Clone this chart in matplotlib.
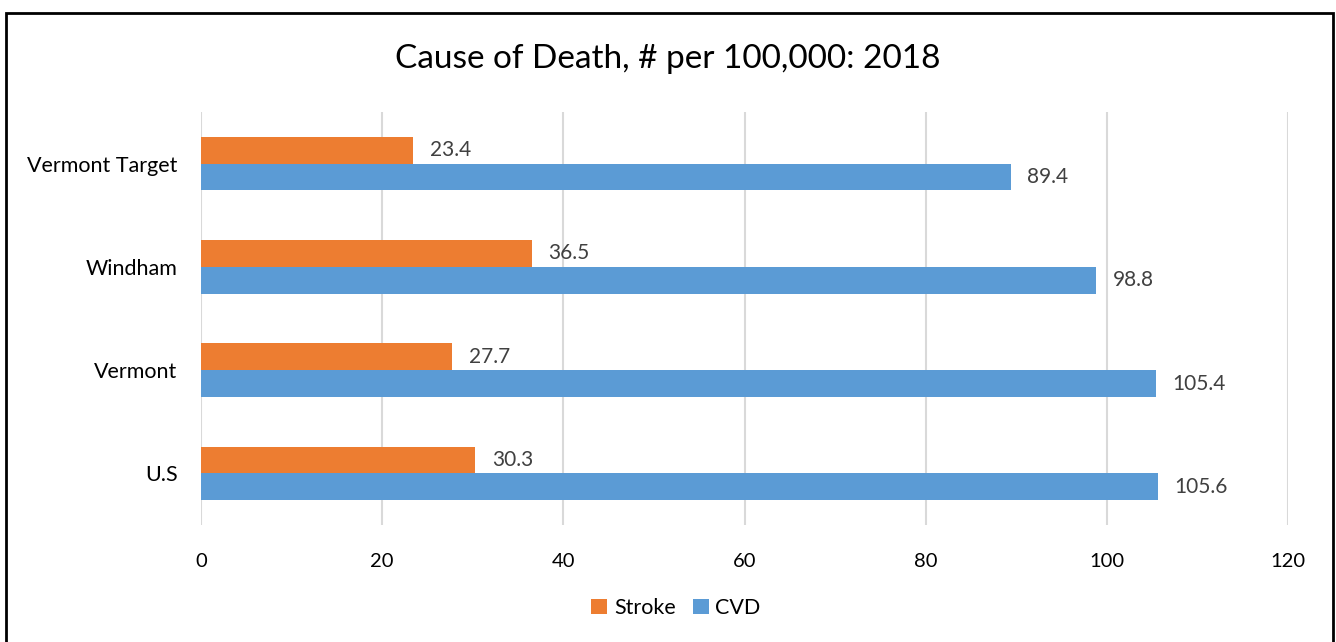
import matplotlib.pyplot as plt
import numpy as np
from matplotlib.patches import Rectangle

plt.rcParams['font.family'] = ['Lato', 'DejaVu Sans']

categories = ['U.S', 'Vermont', 'Windham', 'Vermont Target']
stroke = [30.3, 27.7, 36.5, 23.4]
cvd = [105.6, 105.4, 98.8, 89.4]


def createplot():
    fig = plt.figure(figsize=(13.36, 6.42), dpi=100)
    ax = fig.add_axes([201 / 1336, 1 - 525 / 642, (1288 - 201) / 1336, (525 - 112) / 642])

    y = np.arange(len(categories))
    h = 0.26
    r1 = ax.barh(y + h / 2, stroke, h, color='#ED7D31', label='Stroke')
    r2 = ax.barh(y - h / 2, cvd, h, color='#5B9BD5', label='CVD')

    # value labels next to each bar
    for rects in (r1, r2):
        for rect in rects:
            w = rect.get_width()
            ax.annotate(f'{w}', xy=(w, rect.get_y() + rect.get_height() / 2),
                        xytext=(12, 0), textcoords='offset points',
                        ha='left', va='center', fontsize=15, color='#404040')

    ax.set_xlim(0, 120)
    ax.set_ylim(-0.5, len(categories) - 0.5)
    ax.set_xticks(np.arange(0, 121, 20))
    ax.set_yticks(y)
    ax.set_yticklabels(categories)
    ax.tick_params(axis='both', length=0, colors='#000000')
    ax.tick_params(axis='y', pad=17, labelsize=15.5)
    ax.tick_params(axis='x', pad=20, labelsize=14.5)
    ax.grid(axis='x', color='#D9D9D9', linewidth=1.5)
    ax.set_axisbelow(True)
    for s in ax.spines.values():
        s.set_visible(False)

    fig.text(0.5, 1 - 59 / 642, 'Cause of Death, # per 100,000: 2018',
             ha='center', va='center', fontsize=24)

    fig.legend(handles=[r1, r2], labels=['Stroke', 'CVD'], loc='center',
               bbox_to_anchor=(0.506, 1 - 608 / 642), ncol=2, frameon=False,
               fontsize=15.5, handlelength=0.75, handleheight=0.75,
               handletextpad=0.3, columnspacing=0.8)

    # outer frame
    fig.patches.append(Rectangle((6 / 1336, -0.02), (1333 - 6) / 1336, 1 - 13 / 642 + 0.02,
                                 transform=fig.transFigure, fill=False,
                                 edgecolor='black', linewidth=2))

    fig.savefig('out.png', dpi=100)


if __name__ == "__main__":
    createplot()
